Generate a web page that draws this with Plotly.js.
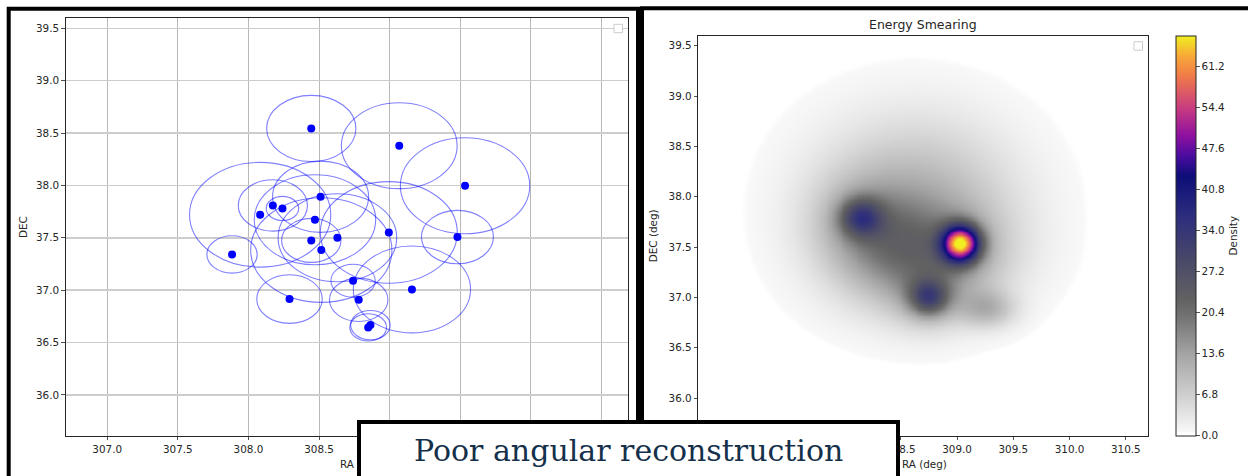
<!DOCTYPE html>
<html>
<head>
<meta charset="utf-8">
<script src="https://cdn.plot.ly/plotly-3.0.1.min.js"></script>
<style>
  html, body { margin: 0; padding: 0; background: #ffffff; }
  #chart { width: 1248px; height: 476px; }
</style>
</head>
<body>
<div id="chart"></div>
<script>
// ---- Event positions (deg) and their angular error radii (deg) ----
const eventRA  = [308.445, 309.068, 309.534, 308.511, 308.173, 308.241, 308.083, 308.471, 308.994, 308.630,
                  308.445, 309.480, 308.516, 307.884, 308.741, 309.158, 308.291, 308.781, 308.864, 308.848];
const eventDEC = [38.544, 38.379, 37.997, 37.892, 37.809, 37.780, 37.720, 37.672, 37.551, 37.500,
                  37.475, 37.507, 37.383, 37.341, 37.090, 37.007, 36.915, 36.908, 36.666, 36.644];
const errRadius = [0.316, 0.410, 0.458, 0.340, 0.245, 0.115, 0.500, 0.430, 0.485, 0.420,
                   0.210, 0.255, 0.500, 0.178, 0.157, 0.415, 0.232, 0.207, 0.140, 0.130];

// ---- Smeared density: kernel components (centre, widths, amplitude) ----
const kernRA    = [308.62, 308.70, 308.45, 308.14, 308.15, 308.746, 308.75, 309.03, 309.00, 309.27];
const kernDEC   = [37.92,  37.35,  37.45,  37.80,  37.78,  37.00,   37.00,  37.54,  37.45,  36.89];
const kernSigRA = [0.62,   0.55,   0.35,   0.13,   0.30,   0.12,    0.22,   0.115,  0.30,   0.17];
const kernSigDE = [0.60,   0.38,   0.35,   0.13,   0.30,   0.12,    0.22,   0.125,  0.30,   0.13];
const kernAmp   = [11,     4,      8,      18,     6,      18,      6,      52,     6,      9];

// ---- Axis ticks ----
const raTicks   = [307.0, 307.5, 308.0, 308.5, 309.0, 309.5, 310.0, 310.5];
const raLabelsL = ['307.0', '307.5', '308.0', '308.5', '', '', '', ''];
const raLabelsR = ['', '', '', '308.5', '309.0', '309.5', '310.0', '310.5'];
const decTicks  = [36.0, 36.5, 37.0, 37.5, 38.0, 38.5, 39.0, 39.5];
const cbTicks   = [0.0, 6.8, 13.6, 20.4, 27.2, 34.0, 40.8, 47.6, 54.4, 61.2];
const densMax   = 66.3;

const W = 1248, H = 476;
const px = v => v / W;
const py = v => 1 - v / H;

// density grid over the right-hand axes
const nx = 241, ny = 241;
const gx = [], gy = [];
for (let i = 0; i < nx; i++) gx.push(306.7 + 4.0 * i / (nx - 1));
for (let j = 0; j < ny; j++) gy.push(35.6 + 4.0 * j / (ny - 1));
const gz = gy.map(yv => gx.map(xv => {
  let s = 0;
  for (let k = 0; k < kernAmp.length; k++) {
    const dx = (xv - kernRA[k]) / kernSigRA[k];
    const dy = (yv - kernDEC[k]) / kernSigDE[k];
    s += kernAmp[k] * Math.exp(-0.5 * (dx * dx + dy * dy));
  }
  return s;
}));

const densScale = [
  [0.000, '#ffffff'], [0.008, '#ffffff'], [0.010, '#f8f8f8'],
  [0.050, '#e6e6e6'], [0.100, '#d0d0d0'], [0.200, '#a6a6a6'],
  [0.300, '#727272'], [0.340, '#626262'], [0.450, '#46466a'],
  [0.550, '#2d2d7e'], [0.650, '#0d0d78'], [0.700, '#4a0ca0'],
  [0.750, '#8e10a0'], [0.820, '#c83c80'], [0.900, '#f07a48'],
  [0.950, '#f8a838'], [1.000, '#f0f020']
];

const txt = '#262626';
const tickFont = { family: 'DejaVu Sans', size: 10.4, color: txt };

const traces = [
  {
    type: 'heatmap', x: gx, y: gy, z: gz, xaxis: 'x2', yaxis: 'y2',
    zsmooth: 'best', zmin: 0, zmax: densMax, colorscale: densScale,
    hoverinfo: 'skip',
    colorbar: {
      x: px(1176), xanchor: 'left', xpad: 0,
      y: py(435.7), yanchor: 'bottom', ypad: 0,
      len: 400, lenmode: 'pixels', thickness: 20, thicknessmode: 'pixels',
      outlinewidth: 1, outlinecolor: txt,
      tickvals: cbTicks, ticktext: cbTicks.map(v => v.toFixed(1)),
      ticks: 'outside', ticklen: 3.5, tickwidth: 0.8, tickcolor: txt,
      tickfont: tickFont,
      title: { text: 'Density', side: 'right', font: tickFont }
    }
  },
  {
    type: 'scatter', mode: 'markers', x: eventRA, y: eventDEC,
    xaxis: 'x', yaxis: 'y', hoverinfo: 'skip',
    marker: { color: '#0000ff', size: 8 }
  }
];

const shapes = [];
// error circles around each event
for (let i = 0; i < eventRA.length; i++) {
  shapes.push({
    type: 'circle', xref: 'x', yref: 'y', layer: 'between',
    x0: eventRA[i] - errRadius[i], x1: eventRA[i] + errRadius[i],
    y0: eventDEC[i] - errRadius[i], y1: eventDEC[i] + errRadius[i],
    line: { color: 'rgba(0,0,255,0.5)', width: 1.1 }
  });
}
// empty legend boxes
shapes.push({ type: 'rect', xref: 'paper', yref: 'paper', layer: 'above',
  x0: px(614), x1: px(622.5), y0: py(24.3), y1: py(32.7),
  line: { color: '#cccccc', width: 1 }, fillcolor: '#ffffff' });
shapes.push({ type: 'rect', xref: 'paper', yref: 'paper', layer: 'above',
  x0: px(1134), x1: px(1142.5), y0: py(41.7), y1: py(50.2),
  line: { color: '#cccccc', width: 1 }, fillcolor: '#ffffff' });
// panel frames
shapes.push({ type: 'rect', xref: 'paper', yref: 'paper', layer: 'above',
  x0: px(8.7), x1: px(638), y0: py(8.7), y1: py(500),
  line: { color: '#000000', width: 4 }, fillcolor: 'rgba(0,0,0,0)' });
shapes.push({ type: 'rect', xref: 'paper', yref: 'paper', layer: 'above',
  x0: px(642), x1: px(1270), y0: py(8.2), y1: py(500),
  line: { color: '#000000', width: 4 }, fillcolor: 'rgba(0,0,0,0)' });
// caption box
shapes.push({ type: 'rect', xref: 'paper', yref: 'paper', layer: 'above',
  x0: px(359), x1: px(898), y0: py(422), y1: py(500),
  line: { color: '#000000', width: 4 }, fillcolor: '#ffffff' });

const lblFont = { family: 'DejaVu Sans', size: 10.4, color: txt };
const annotations = [
  { text: 'DEC', x: px(23), y: py(227), textangle: -90, font: lblFont },
  { text: 'RA', x: px(347), y: py(464), font: lblFont },
  { text: 'DEC (deg)', x: px(652.5), y: py(235.7), textangle: -90, font: lblFont },
  { text: 'RA (deg)', x: px(924.5), y: py(464), font: lblFont },
  { text: 'Energy Smearing', x: px(923.3), y: py(24.5),
    font: { family: 'DejaVu Sans', size: 12.5, color: txt } },
  { text: 'Poor angular reconstruction', x: px(628.5), y: py(450),
    font: { family: 'DejaVu Serif', size: 30, color: '#14304a' } }
].map(a => Object.assign({ xref: 'paper', yref: 'paper', showarrow: false,
  xanchor: 'center', yanchor: 'middle' }, a));

const axisCommon = {
  showline: true, mirror: true, linecolor: txt, linewidth: 1,
  ticks: 'outside', ticklen: 3.5, tickwidth: 0.8, tickcolor: txt,
  tickfont: tickFont, zeroline: false, fixedrange: true
};

const layout = {
  width: W, height: H,
  margin: { l: 0, r: 0, t: 0, b: 0, autoexpand: false },
  paper_bgcolor: '#ffffff', plot_bgcolor: '#ffffff',
  showlegend: false,
  xaxis: Object.assign({}, axisCommon, {
    domain: [px(65.7), px(628.3)], range: [306.706, 310.69], anchor: 'y',
    tickvals: raTicks, ticktext: raLabelsL,
    showgrid: true, gridcolor: '#b8b8b8', gridwidth: 1
  }),
  yaxis: Object.assign({}, axisCommon, {
    domain: [py(435.7), py(18.3)], range: [35.61, 39.596], anchor: 'x',
    tickvals: decTicks, ticktext: decTicks.map(v => v.toFixed(1)),
    showgrid: true, gridcolor: '#cdcdcd', gridwidth: 1.5
  }),
  xaxis2: Object.assign({}, axisCommon, {
    domain: [px(698.3), px(1148.3)], range: [306.70, 310.70], anchor: 'y2',
    tickvals: raTicks, ticktext: raLabelsR, showgrid: false
  }),
  yaxis2: Object.assign({}, axisCommon, {
    domain: [py(435.7), py(35.7)], range: [35.627, 39.6], anchor: 'x2',
    tickvals: decTicks, ticktext: decTicks.map(v => v.toFixed(1)), showgrid: false
  }),
  shapes: shapes,
  annotations: annotations
};

Plotly.newPlot('chart', traces, layout, { staticPlot: true, displayModeBar: false });
</script>
</body>
</html>
